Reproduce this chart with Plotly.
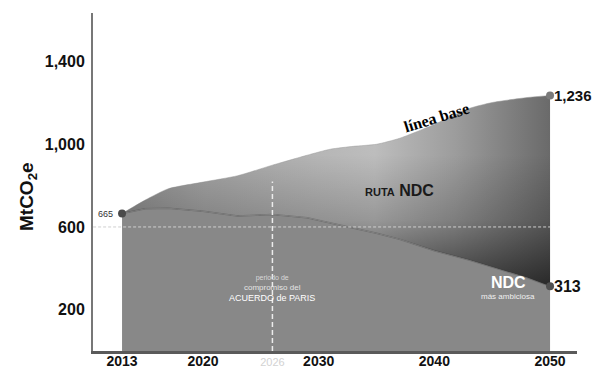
import plotly.graph_objects as go

# ---- data ----
years = [2013, 2015, 2017, 2020, 2023, 2026, 2029, 2031, 2033, 2035, 2037, 2040, 2043, 2045, 2048, 2050]
linea_base = [665, 730, 785, 817, 848, 899, 947, 976, 990, 1000, 1029, 1096, 1173, 1202, 1226, 1236]
ruta_ndc = [665, 688, 690, 676, 653, 660, 645, 620, 598, 570, 540, 485, 440, 405, 355, 313]

x_tick_vals = [2013, 2020, 2026, 2030, 2040, 2050]
x_tick_text = ["2013", "2020", '<span style="color:#d2d2d2;font-weight:400;font-size:11px">2026</span>', "2030", "2040", "2050"]
y_tick_vals = [200, 600, 1000, 1400]
y_tick_text = ["200", "600", "1,000", "1,400"]

ref_level = 600
paris_year = 2026
paris_top = 820

FONT = "Liberation Sans"

fig = go.Figure()

# NDC area (flat gray)
fig.add_trace(go.Scatter(x=years, y=ruta_ndc, mode="lines", line=dict(width=0, color="#888888"),
                         fill="tozeroy", fillcolor="#888888", hoverinfo="skip", showlegend=False))
# band between NDC and baseline, horizontal gradient
fig.add_trace(go.Scatter(x=years, y=linea_base, mode="lines",
                         line=dict(width=0.5, color="#9a9a9a", shape="spline", smoothing=0.6),
                         fill="tonexty",
                         fillgradient=dict(type="horizontal", start=2013, stop=2050,
                                           colorscale=[[0, "#8e8e8e"], [0.19, "#a4a4a4"], [0.46, "#b6b6b6"],
                                                       [0.59, "#bdbdbd"], [0.78, "#9c9c9c"], [1, "#6a6a6a"]]),
                         hoverinfo="skip", showlegend=False))
# shading overlay (darker toward the bottom)
fig.add_trace(go.Scatter(x=years, y=ruta_ndc, mode="lines", line=dict(width=0),
                         hoverinfo="skip", showlegend=False))
fig.add_trace(go.Scatter(x=years, y=linea_base, mode="lines",
                         line=dict(width=0, shape="spline", smoothing=0.6),
                         fill="tonexty",
                         fillgradient=dict(type="vertical", start=313, stop=950,
                                           colorscale=[[0, "rgba(0,0,0,0.62)"], [0.5, "rgba(0,0,0,0.2)"],
                                                       [1, "rgba(0,0,0,0)"]]),
                         hoverinfo="skip", showlegend=False))
# soft edge along the NDC route
fig.add_trace(go.Scatter(x=years, y=ruta_ndc, mode="lines",
                         line=dict(width=1.5, color="rgba(60,60,60,0.35)"),
                         hoverinfo="skip", showlegend=False))

# 600 reference line
fig.add_trace(go.Scatter(x=[2010.5, years[-1]], y=[ref_level, ref_level], mode="lines",
                         line=dict(color="#cfcfcf", width=1, dash="3px,2px"),
                         hoverinfo="skip", showlegend=False))
# Paris agreement dashed line
fig.add_trace(go.Scatter(x=[paris_year, paris_year], y=[0, paris_top], mode="lines",
                         line=dict(color="#ececec", width=1.5, dash="5px,3px"),
                         hoverinfo="skip", showlegend=False))

# end markers
fig.add_trace(go.Scatter(x=[years[0], years[-1], years[-1]], y=[linea_base[0], linea_base[-1], ruta_ndc[-1]],
                         mode="markers", marker=dict(size=8, color=["#4a4a4a", "#7a7a7a", "#505050"]),
                         hoverinfo="skip", showlegend=False))

ann = []
ann.append(dict(x=years[0], y=linea_base[0], text="665", xanchor="right", xshift=-7, showarrow=False,
                font=dict(size=9, color="#333", family=FONT)))
ann.append(dict(x=years[-1], y=linea_base[-1], text="1,236", xanchor="left", xshift=2, showarrow=False,
                font=dict(size=15, color="#111", family=FONT, weight=700)))
ann.append(dict(x=years[-1], y=ruta_ndc[-1], text="313", xanchor="left", xshift=2, showarrow=False,
                font=dict(size=16, color="#111", family=FONT, weight=700)))
ann.append(dict(x=2040.2, y=1128, text="línea base", textangle=-17, showarrow=False,
                font=dict(size=16, color="#000", family="Liberation Serif", weight=700)))
ann.append(dict(x=2037.0, y=775, text='<span style="font-size:11px">RUTA</span> NDC', showarrow=False,
                font=dict(size=16, color="#1a1a1a", family=FONT, weight=700)))
ann.append(dict(x=2046.4, y=332, text="NDC", showarrow=False,
                font=dict(size=16, color="#ffffff", family=FONT, weight=700)))
ann.append(dict(x=2046.4, y=266, text="más ambiciosa", showarrow=False,
                font=dict(size=8, color="#f0f0f0", family=FONT)))
ann.append(dict(x=paris_year, y=300, yanchor="middle",
                text='<span style="color:#d8d8d8;font-size:7px">periodo de</span><br>'
                     '<span style="color:#e4e4e4">compromiso del</span><br>'
                     '<span style="font-size:9px">ACUERDO de PARIS</span>',
                showarrow=False, align="center",
                font=dict(size=8, color="#ffffff", family=FONT)))
ann.append(dict(xref="paper", yref="paper", x=-0.134, y=0.456, xanchor="center", yanchor="middle",
                text="MtCO<sub>2</sub>e", textangle=-90,
                showarrow=False, font=dict(size=19, color="#111", family=FONT, weight=700)))

# the page body adds an 8px margin, so the figure is sized to the remaining window
fig.update_layout(
    width=592, height=361,
    margin=dict(l=85, r=23, t=5, b=18),
    paper_bgcolor="white", plot_bgcolor="white",
    showlegend=False,
    annotations=ann,
    xaxis=dict(range=[2010.49, 2052.33], showgrid=False, zeroline=False, automargin=False,
               showline=True, linecolor="#5a5a5a", linewidth=3,
               tickvals=x_tick_vals, ticktext=x_tick_text, ticks="",
               tickfont=dict(size=14, color="#111", family=FONT, weight=700),
               ticklabelstandoff=-5),
    yaxis=dict(range=[0, 1635], showgrid=False, zeroline=False, automargin=False,
               showline=True, linecolor="#777777", linewidth=2,
               tickvals=y_tick_vals, ticktext=y_tick_text, ticks="",
               tickfont=dict(size=16, color="#111", family=FONT, weight=700),
               ticklabelstandoff=3),
)

fig.write_html("out.html")
